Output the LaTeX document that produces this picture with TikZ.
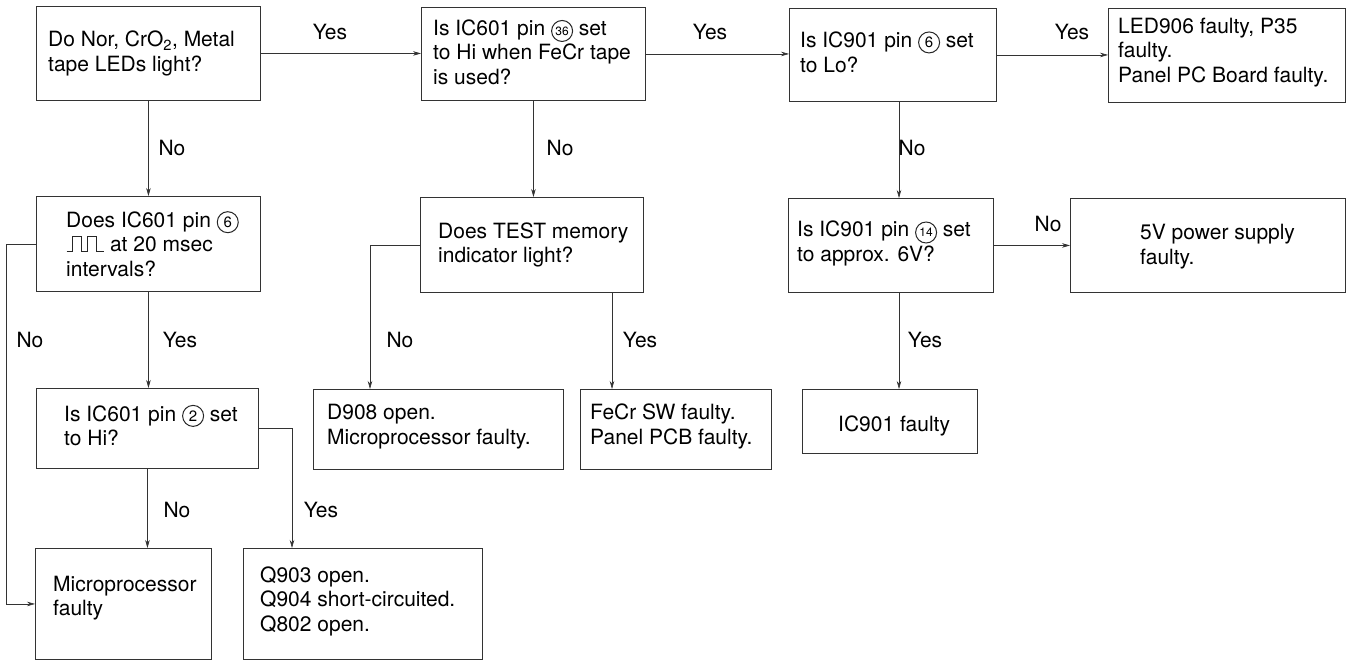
\documentclass[tikz,border=0pt]{standalone}
\usepackage{fontspec}
\setmainfont{TeX Gyre Heros}
\usetikzlibrary{arrows.meta,calc}
\newcommand\cnum[2][15]{\tikz[baseline=(cn.base),x=1pt,y=1pt]\node[circle,draw=black!85,line width=1pt,inner sep=0pt,minimum size=21pt,font=\fontsize{#1}{#1}\selectfont](cn){#2};}
\newcommand\pulsesym{\tikz[baseline=0pt,x=1pt,y=1pt]\draw[line width=1pt,black!85] (0pt,0pt)--(6pt,0pt)--(6pt,15pt)--(15pt,15pt)--(15pt,0pt)--(21pt,0pt)--(21pt,15pt)--(30pt,15pt)--(30pt,0pt)--(37pt,0pt);}
\begin{document}
\begin{tikzpicture}[x=1pt,y=-1pt,
  box/.style={draw=black!80,line width=0.9pt,anchor=north west,inner sep=0pt},
  txt/.style={anchor=west,align=left,inner sep=0pt,font=\fontsize{21}{24.5}\selectfont},
  lbl/.style={inner sep=0pt,font=\fontsize{21}{24.5}\selectfont},
  conn/.style={draw=black!80,line width=0.6pt,-{Stealth[length=8pt,width=4.5pt]}}]
\useasboundingbox (0,0) rectangle (1346,661);
\fill[white] (0,0) rectangle (1346,661);
% boxes
\node[box,minimum width=224pt,minimum height=94pt] (A) at (36,6) {};
\node[txt] (At) at ([xshift=12pt,yshift=0pt]A.west) {Do Nor, CrO\textsubscript{2}, Metal\\tape LEDs light?};
\node[box,minimum width=224pt,minimum height=93pt] (B) at (421,7) {};
\node[txt] (Bt) at ([xshift=12pt,yshift=2pt]B.west) {Is IC601 pin \cnum[12]{36} set\\to Hi when FeCr tape\\is used?};
\node[box,minimum width=207pt,minimum height=93pt] (C) at (789,8) {};
\node[txt] (Ct) at ([xshift=11pt,yshift=3pt]C.west) {Is IC901 pin \cnum{6} set\\to Lo?};
\node[box,minimum width=237pt,minimum height=94pt] (D) at (1108,8) {};
\node[txt] (Dt) at ([xshift=10pt,yshift=3pt]D.west) {LED906 faulty, P35\\faulty.\\Panel PC Board faulty.};
\node[box,minimum width=224pt,minimum height=95pt] (E) at (36,196) {};
\node[txt] (Et) at ([xshift=30pt,yshift=0pt]E.west) {Does IC601 pin \cnum{6}\\\pulsesym\ at 20 msec\\intervals?};
\node[box,minimum width=223pt,minimum height=95pt] (I) at (420,197) {};
\node[txt] (It) at ([xshift=18pt,yshift=0pt]I.west) {Does TEST memory\\indicator light?};
\node[box,minimum width=205pt,minimum height=94pt] (L) at (788,198) {};
\node[txt] (Lt) at ([xshift=9pt,yshift=2pt]L.west) {Is IC901 pin \cnum[12]{14} set\\to approx. 6V?};
\node[box,minimum width=275pt,minimum height=94pt] (M) at (1070,198) {};
\node[txt] (Mt) at ([xshift=70pt,yshift=-1pt]M.west) {5V power supply\\faulty.};
\node[box,minimum width=222pt,minimum height=80pt] (F) at (36,388) {};
\node[txt] (Ft) at ([xshift=28pt,yshift=3pt]F.west) {Is IC601 pin \cnum{2} set\\to Hi?};
\node[box,minimum width=250pt,minimum height=80pt] (J) at (313,389) {};
\node[txt] (Jt) at ([xshift=14pt,yshift=3pt]J.west) {D908 open.\\Microprocessor faulty.};
\node[box,minimum width=191pt,minimum height=80pt] (K) at (580,389) {};
\node[txt] (Kt) at ([xshift=10pt,yshift=3pt]K.west) {FeCr SW faulty.\\Panel PCB faulty.};
\node[box,minimum width=175pt,minimum height=64pt] (N) at (802,389) {};
\node[txt] (Nt) at ([xshift=36pt,yshift=-4pt]N.west) {IC901 faulty};
\node[box,minimum width=176pt,minimum height=111pt] (G) at (35,548) {};
\node[txt] (Gt) at ([xshift=18pt,yshift=6pt]G.west) {Microprocessor\\faulty};
\node[box,minimum width=239pt,minimum height=111pt] (H) at (243,548) {};
\node[txt] (Ht) at ([xshift=17pt,yshift=3pt]H.west) {Q903 open.\\Q904 short-circuited.\\Q802 open.};
% helper coordinates
\coordinate (cx) at (899,0);
\coordinate (kin) at ($(K.north west)+(32pt,0)$);
\coordinate (jin) at ($(J.north west)+(57pt,0)$);
\coordinate (hin) at ($(H.north west)+(49pt,0)$);
% connectors
\draw[conn] (A.east) -- (A.east -| B.west);
\draw[conn] (B.east) -- (B.east -| C.west);
\draw[conn] (C.east) -- (C.east -| D.west);
\draw[conn] (A.south) -- (A.south |- E.north);
\draw[conn] (B.south) -- (B.south |- I.north);
\draw[conn] (cx |- C.south) -- (cx |- L.north);
\draw[conn] (L.east) -- (L.east -| M.west);
\draw[conn] (E.south) -- (E.south |- F.north);
\draw[conn] (E.west) -- ++(-30,0) |- (G.west);
\draw[conn] (I.west) -| (jin);
\draw[conn] (kin |- I.south) -- (kin);
\draw[conn] (cx |- L.south) -- (cx |- N.north);
\draw[conn] (F.south) -- (F.south |- G.north);
\draw[conn] (F.east) -| (hin);
% labels
\node[lbl] (y1) at (330,32) {Yes};
\node[lbl] (y2) at (710,32) {Yes};
\node[lbl] (y3) at (1072,32) {Yes};
\node[lbl] (n1) at (172,148) {No};
\node[lbl] (n2) at (560,148) {No};
\node[lbl] (n3) at (912,148) {No};
\node[lbl] (n4) at (1048,224) {No};
\node[lbl] (n5) at (30,340) {No};
\node[lbl] (y4) at (180,340) {Yes};
\node[lbl] (n6) at (400,340) {No};
\node[lbl] (y5) at (640,340) {Yes};
\node[lbl] (y6) at (925,340) {Yes};
\node[lbl] (n7) at (177,510) {No};
\node[lbl] (y7) at (321,510) {Yes};
\end{tikzpicture}
\end{document}
